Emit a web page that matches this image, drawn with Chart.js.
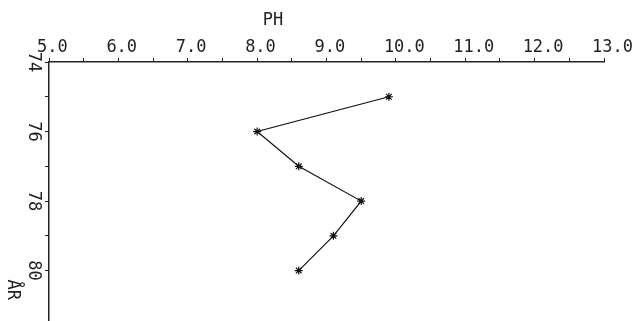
<!DOCTYPE html>
<html>
<head>
<meta charset="utf-8">
<script src="https://cdn.jsdelivr.net/npm/chart.js@4/dist/chart.umd.min.js"></script>
<style>
    html, body { margin: 0; padding: 0; background: #fff; }
    #wrap { width: 644px; height: 321px; }
</style>
</head>
<body>
<div id="wrap"><canvas id="chart" width="644" height="321"></canvas></div>
<script>
// data
const years = [75, 76, 77, 78, 79, 80];
const phValues = [9.9, 8.0, 8.6, 9.5, 9.1, 8.6];
const labeledYears = [74, 76, 78, 80];
const xTitle = "PH";
const yTitle = "ÅR";

const plotFont = { family: "DejaVu Sans Mono", size: 17 };

// axis titles sit off-centre in the original, so draw them by hand
const titlesPlugin = {
    id: "titles",
    afterDraw(chart) {
        const ctx = chart.ctx;
        const x = chart.scales.x;
        const y = chart.scales.y;
        ctx.save();
        ctx.fillStyle = "#222";
        ctx.font = "17px 'DejaVu Sans Mono'";
        ctx.textAlign = "center";
        ctx.textBaseline = "middle";
        ctx.fillText(xTitle, x.getPixelForValue(8.23), 21);
        ctx.translate(12, y.getPixelForValue(80.55));
        ctx.rotate(Math.PI / 2);
        ctx.fillText(yTitle, 0, 0);
        ctx.restore();
    },
};

const points = years.map((yr, i) => ({ x: phValues[i], y: yr }));

new Chart(document.getElementById("chart").getContext("2d"), {
    type: "scatter",
    data: {
        datasets: [
            {
                data: points,
                showLine: true,
                borderColor: "#111",
                borderWidth: 1.2,
                pointStyle: "star",
                pointRadius: 4,
                pointBorderColor: "#111",
                pointBorderWidth: 1.2,
            },
        ],
    },
    options: {
        responsive: false,
        animation: false,
        layout: { autoPadding: false, padding: { right: 40, left: 0, top: 0, bottom: 0 } },
        plugins: {
            legend: { display: false },
            tooltip: { enabled: false },
        },
        scales: {
            x: {
                type: "linear",
                position: "top",
                min: 5,
                max: 13,
                afterFit: (scale) => {
                    scale.height = 62;
                    scale.paddingRight = 40;
                    scale.paddingLeft = 0;
                },
                ticks: {
                    stepSize: 0.5,
                    align: "start",
                    labelOffset: -12,
                    padding: 0,
                    maxRotation: 0,
                    autoSkip: false,
                    color: "#222",
                    font: plotFont,
                    callback: (v) => (Number.isInteger(v) ? v.toFixed(1) : ""),
                },
                grid: {
                    drawOnChartArea: false,
                    tickLength: 4,
                    color: "#222",
                    lineWidth: 1,
                },
                border: { display: true, color: "#222", width: 1.5 },
            },
            y: {
                type: "linear",
                reverse: true,
                min: 74,
                max: 81.45,
                afterFit: (scale) => {
                    scale.width = 49;
                    scale.paddingTop = 0;
                    scale.paddingBottom = 0;
                },
                afterBuildTicks: (scale) => {
                    scale.ticks = scale.ticks.filter((t) => Number.isInteger(t.value));
                },
                ticks: {
                    stepSize: 1,
                    minRotation: -90,
                    maxRotation: -90,
                    crossAlign: "center",
                    padding: 1,
                    autoSkip: false,
                    color: "#222",
                    font: plotFont,
                    callback: (v) => (labeledYears.includes(v) ? String(v) : ""),
                },
                grid: {
                    drawOnChartArea: false,
                    tickLength: 4,
                    color: "#222",
                    lineWidth: 1,
                },
                border: { display: true, color: "#222", width: 1.5 },
            },
        },
    },
    plugins: [titlesPlugin],
});
</script>
</body>
</html>
